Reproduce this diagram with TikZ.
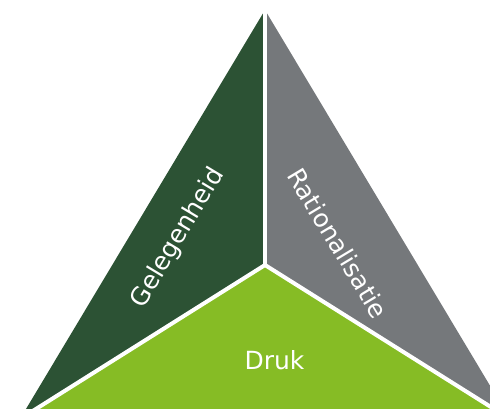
\documentclass[tikz,border=0pt]{standalone}
\usepackage{fontspec}
\setmainfont{DejaVu Sans}
\definecolor{darkgreen}{HTML}{2C5234}
\definecolor{coolgray}{HTML}{75787B}
\definecolor{lightgreen}{HTML}{86BC25}
\tikzset{
  sep/.style={draw=white, line width=4pt, line cap=butt},
  lbl/.style={text=white, font=\fontsize{25}{29}\selectfont, inner sep=0pt}
}
\begin{document}
\begin{tikzpicture}[x=1pt,y=-1pt]
\useasboundingbox (0,0) rectangle (490,408);
\clip (0,0) rectangle (490,408);
\coordinate (A) at (265,10);
\coordinate (C) at (265,265);
\coordinate (L) at (20,419);
\coordinate (R) at (510,419);
\fill[darkgreen] (A) -- (C) -- (L) -- cycle;
\fill[coolgray] (A) -- (C) -- (R) -- cycle;
\fill[lightgreen] (C) -- (L) -- (R) -- cycle;
\draw[sep] (C) -- (A);
\draw[sep] (C) -- (L);
\draw[sep] (C) -- (R);
\node[lbl, rotate=59] (gel) at (178,238) {Gelegenheid};
\node[lbl, rotate=-59] (rat) at (338,243) {Rationalisatie};
\node[lbl] (druk) at (274.5,360) {Druk};
\end{tikzpicture}
\end{document}
